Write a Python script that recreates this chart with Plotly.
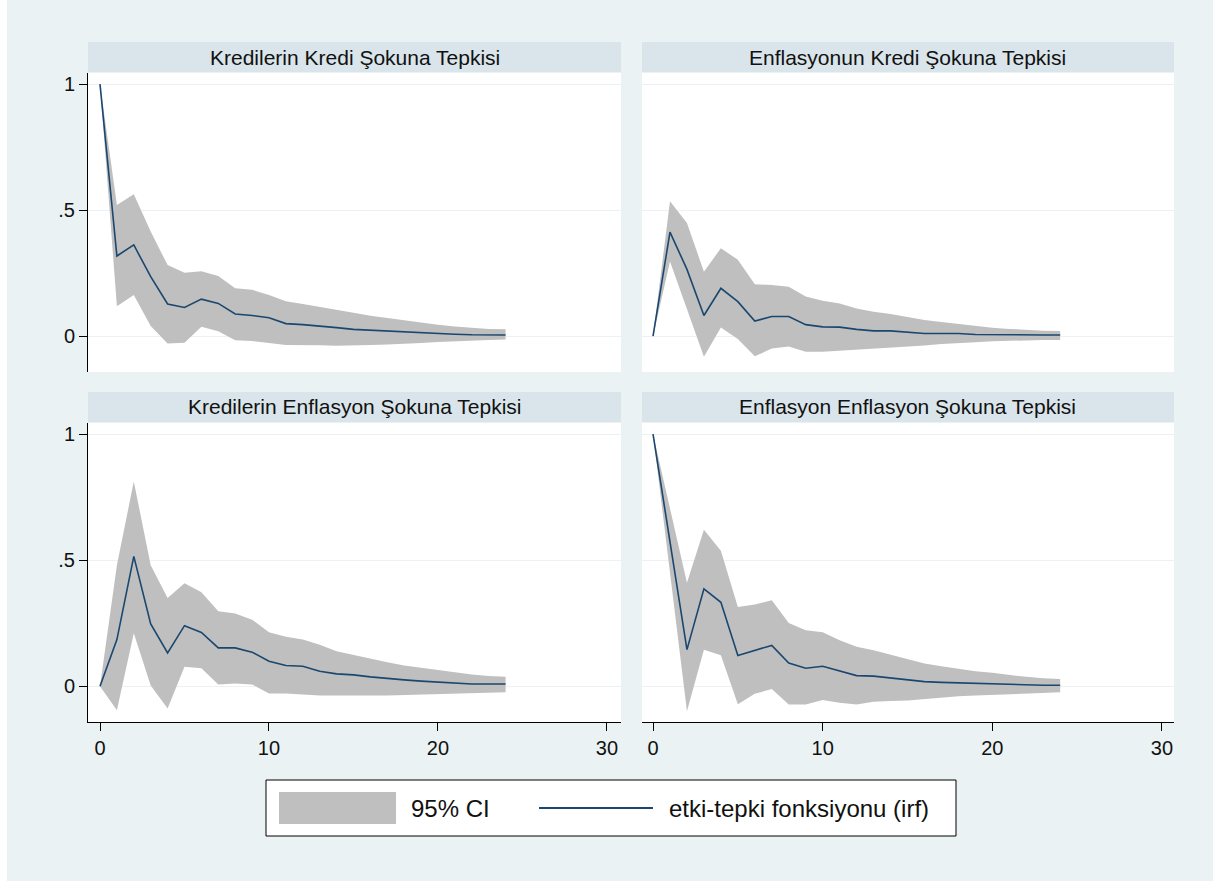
import plotly.graph_objects as go

# Impulse-response horizons
horizon = list(range(25))

# Kredilerin Kredi Şokuna Tepkisi
kk_irf = [1.0, 0.318, 0.362, 0.236, 0.128, 0.114, 0.147, 0.130, 0.088, 0.082, 0.073, 0.050, 0.046,
          0.041, 0.034, 0.027, 0.024, 0.021, 0.015, 0.012, 0.010, 0.008, 0.006, 0.005, 0.005]
kk_hi = [1.0, 0.52, 0.563, 0.415, 0.282, 0.252, 0.258, 0.239, 0.19, 0.184, 0.163, 0.139, 0.128,
         0.117, 0.104, 0.093, 0.081, 0.072, 0.062, 0.054, 0.045, 0.038, 0.032, 0.029, 0.028]
kk_lo = [1.0, 0.119, 0.163, 0.04, -0.029, -0.026, 0.037, 0.020, -0.016, -0.019, -0.027, -0.035, -0.035,
         -0.036, -0.038, -0.036, -0.035, -0.033, -0.031, -0.027, -0.023, -0.020, -0.017, -0.015, -0.013]

# Enflasyonun Kredi Şokuna Tepkisi
ek_irf = [0.0, 0.413, 0.265, 0.082, 0.19, 0.137, 0.06, 0.078, 0.078, 0.046, 0.037, 0.036, 0.027,
          0.021, 0.021, 0.016, 0.011, 0.011, 0.011, 0.007, 0.006, 0.005, 0.005, 0.005, 0.005]
ek_hi = [0.0, 0.535, 0.449, 0.256, 0.349, 0.303, 0.206, 0.203, 0.196, 0.157, 0.141, 0.13, 0.11,
         0.097, 0.088, 0.077, 0.064, 0.056, 0.048, 0.041, 0.034, 0.029, 0.025, 0.022, 0.021]
ek_lo = [0.0, 0.296, 0.104, -0.082, 0.035, -0.011, -0.080, -0.049, -0.041, -0.062, -0.062, -0.055, -0.052,
         -0.049, -0.045, -0.041, -0.037, -0.031, -0.027, -0.024, -0.020, -0.017, -0.016, -0.015, -0.015]

# Kredilerin Enflasyon Şokuna Tepkisi
ke_irf = [0.0, 0.185, 0.515, 0.247, 0.132, 0.24, 0.213, 0.152, 0.152, 0.135, 0.099, 0.082, 0.079,
          0.059, 0.049, 0.045, 0.037, 0.030, 0.025, 0.020, 0.016, 0.013, 0.009, 0.009, 0.009]
ke_hi = [0.0, 0.48, 0.812, 0.48, 0.35, 0.408, 0.373, 0.297, 0.288, 0.264, 0.214, 0.196, 0.185,
         0.164, 0.139, 0.124, 0.108, 0.095, 0.082, 0.073, 0.062, 0.053, 0.046, 0.040, 0.037]
ke_lo = [0.0, -0.095, 0.21, 0.003, -0.088, 0.077, 0.071, 0.007, 0.011, 0.007, -0.029, -0.029, -0.033,
         -0.037, -0.037, -0.037, -0.037, -0.037, -0.037, -0.034, -0.033, -0.030, -0.028, -0.026, -0.024]

# Enflasyon Enflasyon Şokuna Tepkisi
ee_irf = [1.0, 0.58, 0.145, 0.386, 0.333, 0.122, 0.141, 0.162, 0.092, 0.071, 0.079, 0.059, 0.042,
          0.040, 0.033, 0.024, 0.018, 0.015, 0.013, 0.009, 0.008, 0.007, 0.004, 0.004, 0.004]
ee_hi = [1.0, 0.70, 0.41, 0.621, 0.537, 0.314, 0.324, 0.341, 0.251, 0.222, 0.214, 0.182, 0.156,
         0.143, 0.125, 0.106, 0.09, 0.079, 0.069, 0.059, 0.053, 0.045, 0.037, 0.032, 0.029]
ee_lo = [1.0, 0.46, -0.099, 0.145, 0.123, -0.072, -0.03, -0.011, -0.073, -0.073, -0.055, -0.066, -0.073,
         -0.062, -0.059, -0.057, -0.05, -0.046, -0.04, -0.037, -0.033, -0.03, -0.029, -0.026, -0.024]

panel_titles = ["Kredilerin Kredi Şokuna Tepkisi", "Enflasyonun Kredi Şokuna Tepkisi",
                "Kredilerin Enflasyon Şokuna Tepkisi", "Enflasyon Enflasyon Şokuna Tepkisi"]
x_tick_vals = [0, 10, 20, 30]
y_tick_vals = [0, 0.5, 1]
y_tick_text = ["0", ".5", "1"]
legend_labels = ["95% CI", "etki-tepki fonksiyonu (irf)"]

W, H = 1213, 881
BG = "#eaf2f3"
STRIP = "#d9e5ea"
CI_GRAY = "#bfbfbf"
NAVY = "#1a476f"
FONT = "Liberation Sans, Arial, sans-serif"


def px(x):
    return x / W


def py(y):
    return 1 - y / H


# Panel boxes in pixels: (left, right, top, bottom)
col_x = [(88, 621), (642, 1174)]
row_y = [(73, 372), (423, 722)]
strip_y = [(42, 72), (392, 422)]

panels = [(kk_irf, kk_lo, kk_hi), (ek_irf, ek_lo, ek_hi),
          (ke_irf, ke_lo, ke_hi), (ee_irf, ee_lo, ee_hi)]

fig = go.Figure()
shapes = []
annotations = []
layout_axes = {}

for i, (irf, lo, hi) in enumerate(panels):
    r, c = divmod(i, 2)
    n = i + 1
    xa = "x" if n == 1 else f"x{n}"
    ya = "y" if n == 1 else f"y{n}"

    fig.add_trace(go.Scatter(
        x=horizon + horizon[::-1], y=hi + lo[::-1], xaxis=xa, yaxis=ya,
        fill="toself", fillcolor=CI_GRAY, line=dict(width=0), mode="lines",
        hoverinfo="skip", showlegend=False))
    fig.add_trace(go.Scatter(
        x=horizon, y=irf, xaxis=xa, yaxis=ya, mode="lines",
        line=dict(color=NAVY, width=1.6), showlegend=False))

    x0, x1 = col_x[c]
    y0, y1 = row_y[r]
    xrange = [-0.71, 30.83] if c == 0 else [-0.65, 30.71]
    bottom = r == 1
    left = c == 0

    layout_axes["xaxis" if n == 1 else f"xaxis{n}"] = dict(
        domain=[px(x0), px(x1)], range=xrange, anchor=ya,
        tickvals=x_tick_vals, showgrid=False, zeroline=False,
        showline=bottom, linecolor="black", linewidth=1,
        ticks="outside" if bottom else "", ticklen=8, tickcolor="black",
        showticklabels=bottom, tickfont=dict(family=FONT, size=20, color="#111111"))
    layout_axes["yaxis" if n == 1 else f"yaxis{n}"] = dict(
        domain=[py(y1), py(y0)], range=[-0.142, 1.044], anchor=xa,
        tickvals=y_tick_vals, ticktext=y_tick_text, showgrid=True,
        gridcolor=BG, gridwidth=1, zeroline=False,
        showline=left, linecolor="black", linewidth=1,
        ticks="outside" if left else "", ticklen=8, tickcolor="black",
        showticklabels=left, tickfont=dict(family=FONT, size=20, color="#111111"))

    sy0, sy1 = strip_y[r]
    shapes.append(dict(type="rect", xref="paper", yref="paper",
                       x0=px(x0), x1=px(x1), y0=py(sy1), y1=py(sy0),
                       fillcolor=STRIP, line=dict(width=0), layer="below"))
    annotations.append(dict(text=panel_titles[i], xref="paper", yref="paper",
                            x=px((x0 + x1) / 2), y=py((sy0 + sy1) / 2),
                            xanchor="center", yanchor="middle", showarrow=False,
                            font=dict(family=FONT, size=21, color="#111111")))

# Key below the panels
shapes.append(dict(type="rect", xref="paper", yref="paper",
                   x0=px(266), x1=px(956), y0=py(836), y1=py(780),
                   fillcolor="white", line=dict(color="black", width=1)))
shapes.append(dict(type="rect", xref="paper", yref="paper",
                   x0=px(279), x1=px(396), y0=py(824), y1=py(792),
                   fillcolor=CI_GRAY, line=dict(width=0)))
shapes.append(dict(type="line", xref="paper", yref="paper",
                   x0=px(539), x1=px(653), y0=py(808), y1=py(808),
                   line=dict(color=NAVY, width=2)))
annotations.append(dict(text=legend_labels[0], xref="paper", yref="paper",
                        x=px(409), y=py(808), xanchor="left", yanchor="middle",
                        showarrow=False, font=dict(family=FONT, size=24, color="#111111")))
annotations.append(dict(text=legend_labels[1], xref="paper", yref="paper",
                        x=px(667), y=py(808), xanchor="left", yanchor="middle",
                        showarrow=False, font=dict(family=FONT, size=24, color="#111111")))

# Thin white edge on the left of the page
shapes.append(dict(type="rect", xref="paper", yref="paper",
                   x0=0, x1=px(7), y0=0, y1=1, fillcolor="white", line=dict(width=0)))

fig.update_layout(
    width=W, height=H, margin=dict(l=0, r=0, t=0, b=0),
    paper_bgcolor=BG, plot_bgcolor="white", showlegend=False,
    shapes=shapes, annotations=annotations, **layout_axes)

fig.write_html("out.html")
